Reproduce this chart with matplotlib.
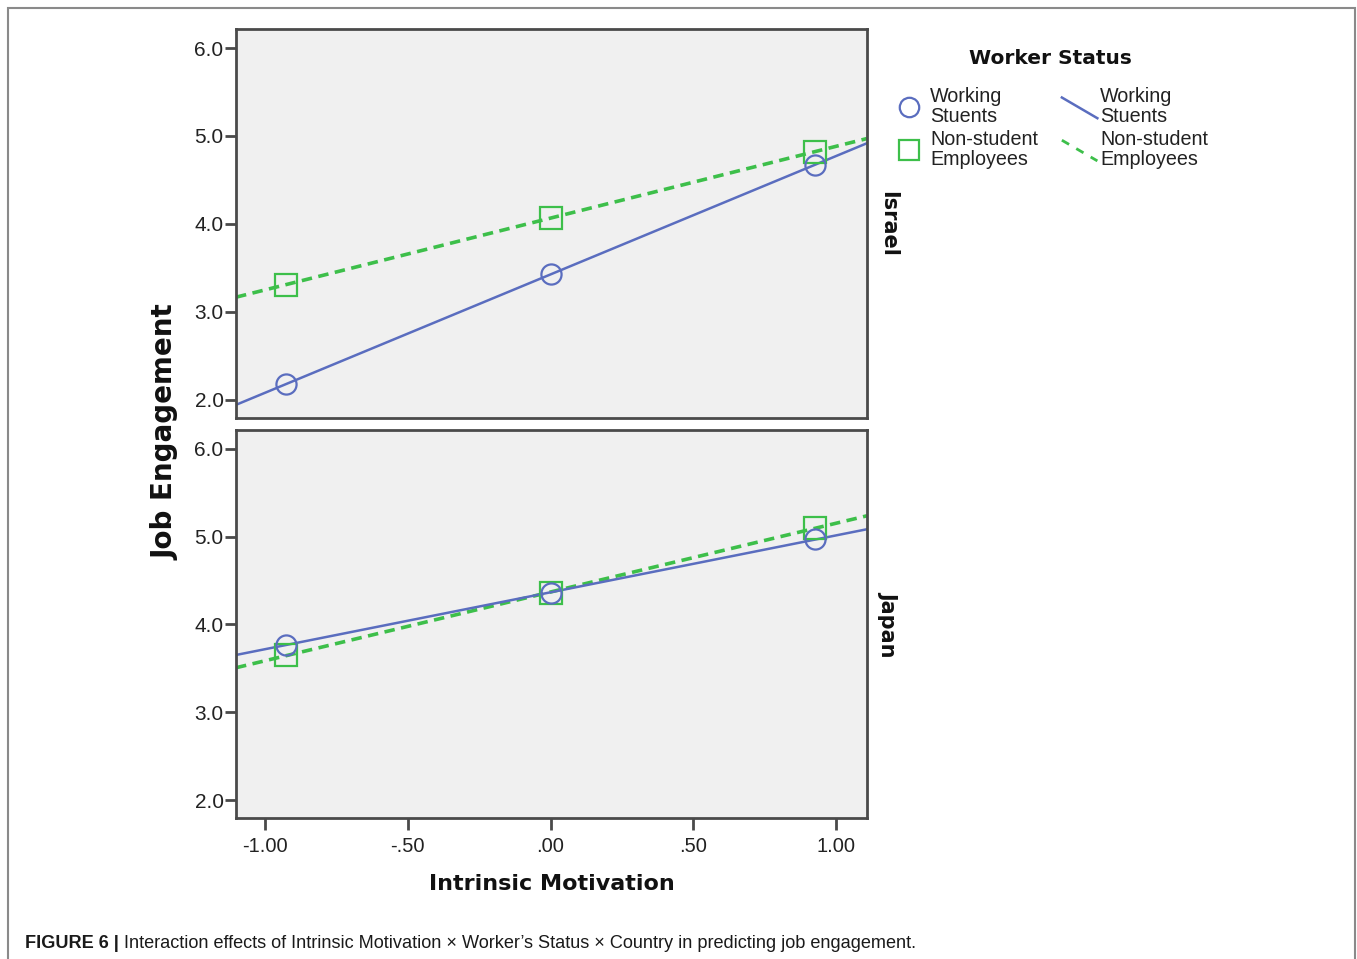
import numpy as np
import matplotlib
matplotlib.use("Agg")
import matplotlib.pyplot as plt
from matplotlib.lines import Line2D
from matplotlib.legend_handler import HandlerLine2D
from matplotlib.patches import Rectangle
from matplotlib.text import Annotation

# data
motivation = [-0.925, 0.0, 0.925]
countries = ["Israel", "Japan"]
working_students = {"Israel": [2.18, 3.43, 4.67], "Japan": [3.77, 4.36, 4.97]}
non_students = {"Israel": [3.31, 4.07, 4.82], "Japan": [3.65, 4.36, 5.10]}
x_ticks = [-1.0, -0.5, 0.0, 0.5, 1.0]
x_tick_labels = ["-1.00", "-.50", ".00", ".50", "1.00"]
y_ticks = [2.0, 3.0, 4.0, 5.0, 6.0]
y_tick_labels = ["2.0", "3.0", "4.0", "5.0", "6.0"]

BLUE = "#5a6dbf"
GREEN = "#3dbf4a"
PANEL = "#f0f0f0"
EDGE = "#4a4a4a"
SANS = "Liberation Sans"


class SlantHandler(HandlerLine2D):
    # SPSS style legend: line drawn on a slope
    def create_artists(self, legend, orig_handle, xdescent, ydescent,
                       width, height, fontsize, trans):
        line = Line2D([-xdescent, width - xdescent],
                      [height * 1.2 - ydescent, -height * 0.3 - ydescent])
        self.update_prop(line, orig_handle, legend)
        line.set_transform(trans)
        return [line]


fig = plt.figure(figsize=(13.57, 9.59), dpi=100)

left, width = 236 / 1357, 631 / 1357
axes = [fig.add_axes([left, 1 - 418 / 959, width, 389 / 959]),
        fig.add_axes([left, 1 - 818 / 959, width, 388 / 959])]

xlim = (-1.101, 1.108)
xfit = np.array(xlim)
for ax, country in zip(axes, countries):
    ax.set_facecolor(PANEL)
    for series, color, ls, lw, marker, ms in [
            (non_students[country], GREEN, (0, (2.9, 1.8)), 2.6, "s", 15.5),
            (working_students[country], BLUE, "-", 1.8, "o", 14.5)]:
        slope, icpt = np.polyfit(motivation, series, 1)
        ax.plot(xfit, icpt + slope * xfit, color=color, ls=ls, lw=lw, zorder=2)
        ax.plot(motivation, series, ls="none", marker=marker, ms=ms,
                mfc="none", mec=color, mew=1.6, zorder=3)
    ax.set_xlim(*xlim)
    ax.set_ylim(1.795, 6.216)
    ax.set_yticks(y_ticks)
    ax.set_yticklabels(y_tick_labels, fontfamily=SANS, fontsize=15)
    ax.tick_params(axis="y", direction="out", length=8, width=2, color=EDGE,
                   pad=1, labelcolor="#222222")
    for sp in ax.spines.values():
        sp.set_color(EDGE)
        sp.set_linewidth(2)
    ax.text(1.033, 0.5, country, transform=ax.transAxes, rotation=-90,
            ha="center", va="center", fontsize=15, fontweight="bold",
            color="#111111")

axes[0].set_xticks([])
axes[1].set_xticks(x_ticks)
axes[1].set_xticklabels(x_tick_labels, fontfamily=SANS, fontsize=14.5)
axes[1].tick_params(axis="x", direction="out", length=8.5, width=2,
                    color=EDGE, pad=5, labelcolor="#222222")

fig.text(165 / 1357, 1 - 432 / 959, "Job Engagement", rotation=90,
         ha="center", va="center", fontsize=20, fontweight="bold",
         color="#111111")
fig.text(552 / 1357, 1 - 884 / 959, "Intrinsic Motivation", ha="center",
         va="center", fontsize=16, fontweight="bold", color="#111111")

# legend
handles = [
    Line2D([], [], ls="none", marker="o", ms=14, mfc="none", mec=BLUE, mew=1.6),
    Line2D([], [], ls="none", marker="s", ms=15, mfc="none", mec=GREEN, mew=1.6),
    Line2D([], [], color=BLUE, lw=1.8),
    Line2D([], [], color=GREEN, lw=2.0, ls=(0, (3, 3))),
]
labels = ["Working\nStuents", "Non-student\nEmployees",
          "Working\nStuents", "Non-student\nEmployees"]
leg = fig.legend(handles, labels, ncol=2, loc="upper left",
                 bbox_to_anchor=(874 / 1357, 1 - 31 / 959), frameon=False,
                 title="Worker Status",
                 prop={"family": SANS, "size": 14.2},
                 handlelength=1.8, handletextpad=0.15, columnspacing=1.2,
                 labelspacing=0.2,
                 handler_map={handles[2]: SlantHandler(),
                              handles[3]: SlantHandler()})
leg.get_title().set_fontweight("bold")
leg.get_title().set_fontsize(14.5)
leg.get_title().set_color("#111111")
leg._legend_box.sep = 14
for t in leg.get_texts():
    t.set_linespacing(1.05)
    t.set_color("#222222")

# frame around the figure and caption
fig.patches.append(Rectangle((8 / 1357, -0.02), 1347 / 1357, 1 - 8 / 959 + 0.02,
                             transform=fig.transFigure, fill=False,
                             ec="#8a8a8a", lw=1.5))

cap1 = fig.text(25 / 1357, 1 - 943 / 959, "FIGURE 6 |", fontfamily=SANS,
                fontsize=13.1, fontweight="bold", va="center", color="#1a1a1a")
cap2 = Annotation("Interaction effects of Intrinsic Motivation \u00d7 Worker\u2019s "
                  "Status \u00d7 Country in predicting job engagement.",
                  xy=(1, 0), xycoords=cap1, xytext=(4, 0),
                  textcoords="offset points", ha="left", va="bottom",
                  fontfamily=SANS, fontsize=13.1, color="#1a1a1a")
fig.add_artist(cap2)

fig.savefig("out.png", dpi=100)
